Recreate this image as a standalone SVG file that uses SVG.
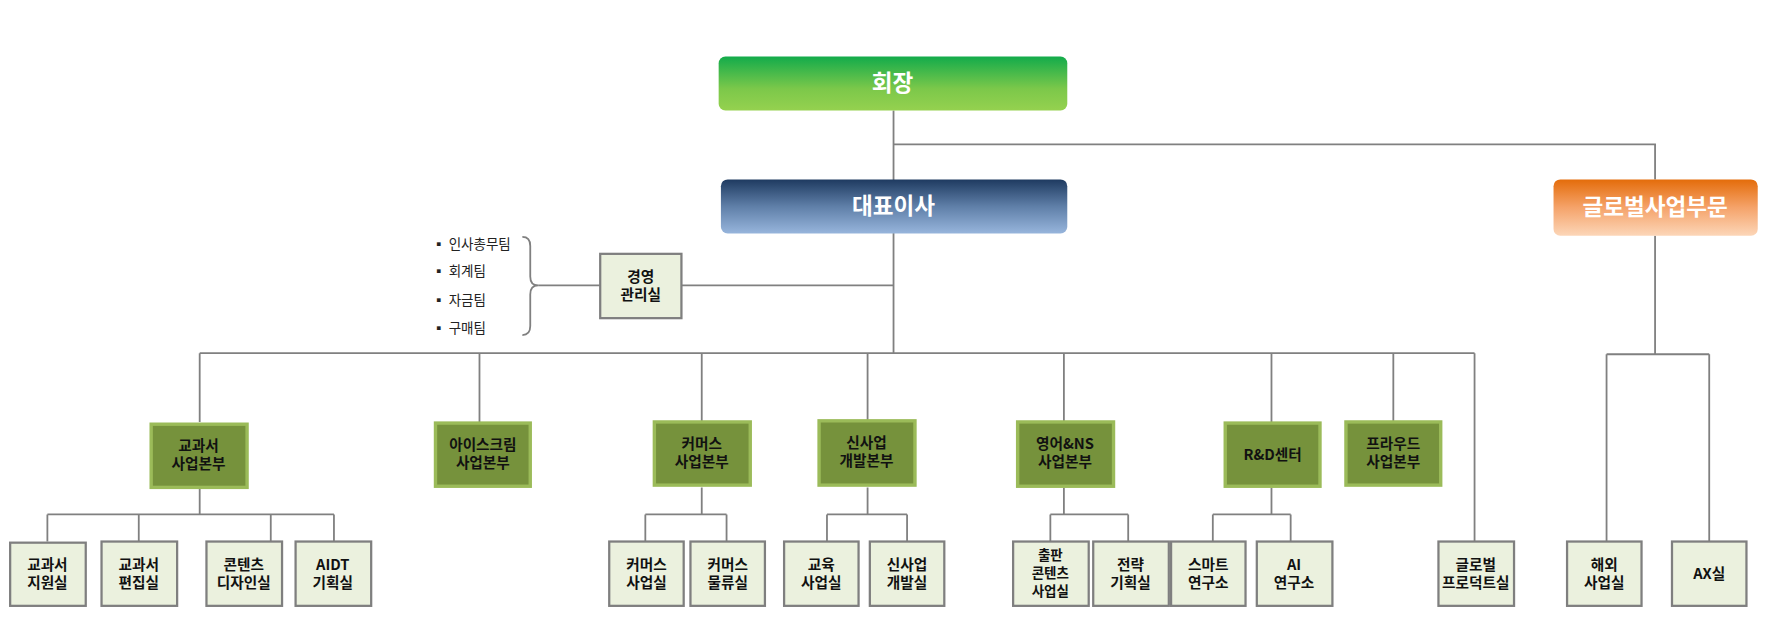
<svg xmlns="http://www.w3.org/2000/svg" width="1769" height="644" viewBox="0 0 1769 644">
<defs>
<linearGradient id="gG" x1="0" y1="0" x2="0" y2="1"><stop offset="0" stop-color="#12ab4b"/><stop offset="0.6" stop-color="#7cc84a"/><stop offset="1" stop-color="#95d14f"/></linearGradient>
<linearGradient id="gB" x1="0" y1="0" x2="0" y2="1"><stop offset="0" stop-color="#1e3a60"/><stop offset="0.5" stop-color="#5f7fa8"/><stop offset="1" stop-color="#97b5dc"/></linearGradient>
<linearGradient id="gO" x1="0" y1="0" x2="0" y2="1"><stop offset="0" stop-color="#e46c0a"/><stop offset="0.5" stop-color="#f5a36a"/><stop offset="1" stop-color="#fcd6b8"/></linearGradient>
</defs>
<style>
.t{font-family:"Noto Sans CJK KR","Noto Sans",sans-serif;font-weight:bold;text-anchor:middle}
.top{fill:#fff;font-size:20px}
.g rect{fill:#76923c;stroke:#9bbb59;stroke-width:3}
.g text{font-size:13px;fill:#111}
.w rect{fill:#ebf1de;stroke:#7f7f7f;stroke-width:2}
.w text{font-size:13px;fill:#111}
.w text.s{font-size:12px}
.c{fill:none;stroke:#808080;stroke-width:1.6}
.b{font-family:"Noto Sans CJK KR","Noto Sans",sans-serif;font-size:12px;fill:#222}
</style>
<g transform="scale(1.1282)">
<g id="connectors" class="c">
<path d="M792 98V313M792 128H1467V159M177 313H1307M177 313V374M425 313V374M622 313V374M769 313V374M943 313V374M1127 313V374M1235 313V374M1307 313V480"/>
<path d="M604 253H792M532 253H477"/>
<path d="M463 210Q470 210 470 218V245Q470 253 477 253Q470 253 470 261V289Q470 297 463 297"/>
<path d="M1467 209V314M1424 314H1515M1424 314V480M1515 314V480"/>
<path d="M177 432V456M42 456H296M42 456V480M123 456V480M240 456V480M296 456V480"/>
<path d="M622 432V456M572 456H644M572 456V480M644 456V480"/>
<path d="M769 432V456M733 456H804M733 456V480M804 456V480"/>
<path d="M943 432V456M931 456H1000M931 456V480M1000 456V480"/>
<path d="M1127 432V456M1075 456H1144M1075 456V480M1144 456V480"/>
</g>
<g id="n-chair"><rect x="637" y="50" width="309" height="48" rx="6" fill="url(#gG)"/><text class="t top" x="791" y="81">회장</text></g>
<g id="n-ceo"><rect x="639" y="159" width="307" height="48" rx="6" fill="url(#gB)"/><text class="t top" x="792" y="190">대표이사</text></g>
<g id="n-global"><rect x="1377" y="159" width="181" height="50" rx="6" fill="url(#gO)"/><text class="t top" x="1467" y="191">글로벌사업부문</text></g>
<g id="n-mgmt" class="w"><rect x="532" y="225" width="72" height="57"/><text class="t" x="568" y="250">경영</text><text class="t" x="568" y="266">관리실</text></g>
<g id="n-teams">
<text class="b" x="383" y="221">▪ 인사총무팀</text>
<text class="b" x="383" y="245">▪ 회계팀</text>
<text class="b" x="383" y="270">▪ 자금팀</text>
<text class="b" x="383" y="295">▪ 구매팀</text>
</g>
<g id="n-tb" class="g"><rect x="134" y="376" width="85" height="56"/><text class="t" x="176" y="400">교과서</text><text class="t" x="176" y="416">사업본부</text></g>
<g id="n-ice" class="g"><rect x="386" y="375" width="84" height="56"/><text class="t" x="428" y="399">아이스크림</text><text class="t" x="428" y="415">사업본부</text></g>
<g id="n-com" class="g"><rect x="580" y="374" width="85" height="56"/><text class="t" x="622" y="398">커머스</text><text class="t" x="622" y="414">사업본부</text></g>
<g id="n-new" class="g"><rect x="726" y="373" width="85" height="57"/><text class="t" x="768" y="397">신사업</text><text class="t" x="768" y="413">개발본부</text></g>
<g id="n-eng" class="g"><rect x="902" y="374" width="85" height="57"/><text class="t" x="944" y="398">영어&amp;NS</text><text class="t" x="944" y="414">사업본부</text></g>
<g id="n-rd" class="g"><rect x="1086" y="375" width="84" height="56"/><text class="t" x="1128" y="408">R&amp;D센터</text></g>
<g id="n-pr" class="g"><rect x="1193" y="374" width="84" height="56"/><text class="t" x="1235" y="398">프라우드</text><text class="t" x="1235" y="414">사업본부</text></g>
<g id="n-a1" class="w"><rect x="9" y="481" width="67" height="56"/><text class="t" x="42" y="505">교과서</text><text class="t" x="42" y="521">지원실</text></g>
<g id="n-a2" class="w"><rect x="90" y="480" width="67" height="57"/><text class="t" x="123" y="505">교과서</text><text class="t" x="123" y="521">편집실</text></g>
<g id="n-a3" class="w"><rect x="183" y="480" width="67" height="57"/><text class="t" x="216" y="505">콘텐츠</text><text class="t" x="216" y="521">디자인실</text></g>
<g id="n-a4" class="w"><rect x="262" y="480" width="67" height="57"/><text class="t" x="295" y="505">AIDT</text><text class="t" x="295" y="521">기획실</text></g>
<g id="n-c1" class="w"><rect x="540" y="480" width="66" height="57"/><text class="t" x="573" y="505">커머스</text><text class="t" x="573" y="521">사업실</text></g>
<g id="n-c2" class="w"><rect x="612" y="480" width="66" height="57"/><text class="t" x="645" y="505">커머스</text><text class="t" x="645" y="521">물류실</text></g>
<g id="n-d1" class="w"><rect x="695" y="480" width="66" height="57"/><text class="t" x="728" y="505">교육</text><text class="t" x="728" y="521">사업실</text></g>
<g id="n-d2" class="w"><rect x="771" y="480" width="66" height="57"/><text class="t" x="804" y="505">신사업</text><text class="t" x="804" y="521">개발실</text></g>
<g id="n-e1" class="w"><rect x="898" y="480" width="67" height="57"/><text class="t s" x="931" y="496">출판</text><text class="t s" x="931" y="512">콘텐츠</text><text class="t s" x="931" y="528">사업실</text></g>
<g id="n-e2" class="w"><rect x="969" y="480" width="67" height="57"/><text class="t" x="1002" y="505">전략</text><text class="t" x="1002" y="521">기획실</text></g>
<g id="n-r1" class="w"><rect x="1038" y="480" width="66" height="57"/><text class="t" x="1071" y="505">스마트</text><text class="t" x="1071" y="521">연구소</text></g>
<g id="n-r2" class="w"><rect x="1114" y="480" width="67" height="57"/><text class="t" x="1147" y="505">AI</text><text class="t" x="1147" y="521">연구소</text></g>
<g id="n-gp" class="w"><rect x="1275" y="480" width="67" height="57"/><text class="t" x="1308" y="505">글로벌</text><text class="t" x="1308" y="521">프로덕트실</text></g>
<g id="n-ov" class="w"><rect x="1389" y="480" width="66" height="57"/><text class="t" x="1422" y="505">해외</text><text class="t" x="1422" y="521">사업실</text></g>
<g id="n-ax" class="w"><rect x="1482" y="480" width="66" height="57"/><text class="t" x="1515" y="513">AX실</text></g>
</g>
</svg>
